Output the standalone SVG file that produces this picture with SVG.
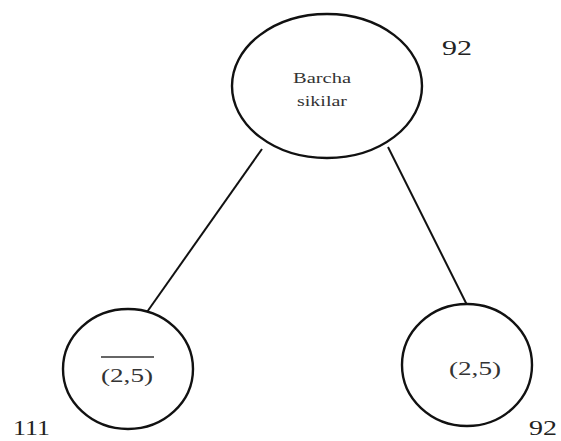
<svg xmlns="http://www.w3.org/2000/svg" width="561" height="441" viewBox="0 0 561 441">
  <style>
    .node { fill: #ffffff; stroke: #111111; stroke-width: 2.4; }
    .edge { stroke: #111111; stroke-width: 2; fill: none; }
    .lbl { font-family: "Liberation Serif", "Times New Roman", serif; fill: #333333; text-anchor: middle; }
    .num { font-family: "Liberation Serif", "Times New Roman", serif; fill: #222222; font-size: 21px; }
  </style>
  <rect width="561" height="441" fill="#ffffff"/>

  <g id="connectors">
    <line class="edge" x1="262" y1="149" x2="147" y2="312"/>
    <line class="edge" x1="388" y1="147" x2="467" y2="305"/>
  </g>

  <g id="root">
    <ellipse class="node" cx="327" cy="86" rx="95" ry="72"/>
    <text class="lbl" x="322" y="83" font-size="15" textLength="58" lengthAdjust="spacingAndGlyphs">Barcha</text>
    <text class="lbl" x="322" y="106" font-size="15" textLength="50" lengthAdjust="spacingAndGlyphs">sikilar</text>
  </g>

  <g id="left">
    <ellipse class="node" cx="128" cy="369" rx="65" ry="60"/>
    <line x1="101" y1="357" x2="154" y2="357" stroke="#333333" stroke-width="1.5"/>
    <text class="lbl" x="127" y="382" font-size="19" textLength="52" lengthAdjust="spacingAndGlyphs">(2,5)</text>
  </g>

  <g id="right">
    <ellipse class="node" cx="467" cy="365" rx="65" ry="61"/>
    <text class="lbl" x="475" y="375" font-size="19" textLength="52" lengthAdjust="spacingAndGlyphs">(2,5)</text>
  </g>

  <g id="weights">
    <text class="num" x="442" y="55" textLength="30" lengthAdjust="spacingAndGlyphs">92</text>
    <text class="num" x="13" y="435" textLength="37" lengthAdjust="spacingAndGlyphs">111</text>
    <text class="num" x="529" y="435" textLength="28" lengthAdjust="spacingAndGlyphs">92</text>
  </g>
</svg>
